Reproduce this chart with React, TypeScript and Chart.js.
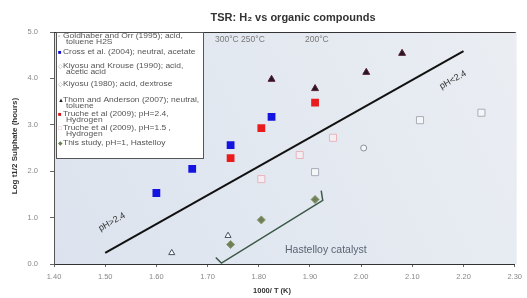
import React, { useEffect, useRef } from "react";
import { Chart, registerables } from "chart.js";
Chart.register(...registerables);

const titleText = "TSR: H\u2082 vs organic compounds";
const xTitle = "1000/ T (K)";
const yTitle = "Log t1/2 Sulphate (hours)";
const xMin = 1.4, xMax = 2.3, xStep = 0.1;
const yMin = 0, yMax = 5, yStep = 1;

const goldhaberX = [1.63, 1.74];
const goldhaberY = [0.24, 0.61];
const crossX = [1.60, 1.67, 1.745, 1.825];
const crossY = [1.53, 2.05, 2.56, 3.17];
const kiyosuKX = [1.91, 2.115, 2.235];
const kiyosuKY = [1.98, 3.1, 3.26];
const kiyosu80X = [2.005];
const kiyosu80Y = [2.5];
const thomX = [1.825, 1.91, 2.01, 2.08];
const thomY = [3.98, 3.78, 4.13, 4.54];
const truche24X = [1.745, 1.805, 1.91];
const truche24Y = [2.28, 2.93, 3.48];
const truche15X = [1.805, 1.88, 1.945];
const truche15Y = [1.83, 2.35, 2.72];
const thisStudyX = [1.745, 1.805, 1.91];
const thisStudyY = [0.42, 0.95, 1.39];

const dividerX = [1.50, 2.20];
const dividerY = [0.24, 4.59];
const bracketX = [1.716, 1.727, 1.925, 1.922];
const bracketY = [0.14, 0.02, 1.37, 1.58];

const legendGoldhaber = ["Goldhaber and Orr (1995); acid,", "toluene H2S"];
const legendCross = ["Cross et al. (2004); neutral, acetate"];
const legendKiyosuK = ["Kiyosu and Krouse (1990); acid,", "acetic acid"];
const legendKiyosu80 = ["Kiyosu (1980); acid, dextrose"];
const legendThom = ["Thom and Anderson (2007); neutral,", "toluene"];
const legendTruche24 = ["Truche et al (2009); pH=2.4,", "Hydrogen"];
const legendTruche15 = ["Truche et al (2009), pH=1.5 ,", "Hydrogen"];
const legendThisStudy = ["This study, pH=1, Hastelloy"];
const legendSymbols = ["\u25AB", "\u25A0", "\u25C7", "\u25C7", "\u25B2", "\u25A0", "\u25A1", "\u25C6"];

const tempLabels = ["300\u00B0C 250\u00B0C", "200\u00B0C"];
const regionLabels = ["pH>2.4", "pH<2.4"];
const catalystLabel = "Hastelloy catalyst";

const pts = (xs: number[], ys: number[]) => xs.map((x, i) => ({ x, y: ys[i] }));

export default function App() {
  const ref = useRef<HTMLCanvasElement>(null);
  useEffect(() => {
    document.body.style.margin = "0";
    const ctx = ref.current!.getContext("2d")!;
    const FONT = "Arial, 'Liberation Sans', sans-serif";

    const decor = {
      id: "decor",
      beforeDraw(chart: any) {
        const { ctx, chartArea: a } = chart;
        ctx.save();
        const g = ctx.createLinearGradient(a.left, a.bottom, a.right, a.top);
        g.addColorStop(0, "#dce3ee");
        g.addColorStop(1, "#eaeef3");
        ctx.fillStyle = g;
        ctx.fillRect(a.left, a.top, a.right - a.left + 2, a.bottom - a.top);
        ctx.restore();
      },
      afterDraw(chart: any) {
        const { ctx, chartArea: a, scales } = chart;
        const xs = scales.x, ys = scales.y;
        ctx.save();
        ctx.strokeStyle = "#333";
        ctx.lineWidth = 1;
        ctx.beginPath();
        ctx.moveTo(a.left, a.top + 0.5);
        ctx.lineTo(a.right + 1, a.top + 0.5);
        ctx.stroke();
        ctx.fillStyle = "#333";
        ctx.font = `bold 11px ${FONT}`;
        ctx.textAlign = "center";
        ctx.textBaseline = "middle";
        ctx.fillText(titleText, 293, 18);
        ctx.font = `bold 7.5px ${FONT}`;
        ctx.fillText(xTitle, 272, 291);
        ctx.save();
        ctx.translate(15, 146);
        ctx.rotate(-Math.PI / 2);
        ctx.font = `bold 8px ${FONT}`;
        ctx.fillText(yTitle, 0, 0);
        ctx.restore();
        ctx.font = `8.5px ${FONT}`;
        ctx.fillStyle = "#777";
        ctx.textAlign = "left";
        ctx.fillText(tempLabels[0], 215, 40);
        ctx.fillText(tempLabels[1], 305, 40);
        const p0x = xs.getPixelForValue(dividerX[0]), p0y = ys.getPixelForValue(dividerY[0]);
        const p1x = xs.getPixelForValue(dividerX[1]), p1y = ys.getPixelForValue(dividerY[1]);
        const ang = Math.atan2(p1y - p0y, p1x - p0x);
        ctx.fillStyle = "#333";
        ctx.font = `9px ${FONT}`;
        ctx.textAlign = "center";
        ctx.save();
        ctx.translate(112, 222);
        ctx.rotate(ang);
        ctx.fillText(regionLabels[0], 0, 0);
        ctx.restore();
        ctx.save();
        ctx.translate(453, 80);
        ctx.rotate(ang);
        ctx.fillText(regionLabels[1], 0, 0);
        ctx.restore();
        ctx.fillStyle = "#5a6474";
        ctx.font = `10.5px ${FONT}`;
        ctx.textAlign = "left";
        ctx.fillText(catalystLabel, 285, 250);
        const bx = 56, by = 32, bw = 147, bh = 126;
        ctx.fillStyle = "#ffffff";
        ctx.fillRect(bx, by, bw, bh);
        ctx.strokeStyle = "#555";
        ctx.lineWidth = 1;
        ctx.strokeRect(bx + 0.5, by + 0.5, bw, bh);
        const entries = [
          { lines: legendGoldhaber, ys: [36, 42], c: "#888" },
          { lines: legendCross, ys: [52], c: "#1010d0" },
          { lines: legendKiyosuK, ys: [66, 72], c: "#999" },
          { lines: legendKiyosu80, ys: [84], c: "#999" },
          { lines: legendThom, ys: [100, 106], c: "#222" },
          { lines: legendTruche24, ys: [114, 120], c: "#d01818" },
          { lines: legendTruche15, ys: [128, 134], c: "#d89aa2" },
          { lines: legendThisStudy, ys: [143], c: "#6d7f55" },
        ];
        ctx.textBaseline = "middle";
        entries.forEach((e, i) => {
          ctx.fillStyle = e.c;
          ctx.font = `6px ${FONT}`;
          ctx.fillText(legendSymbols[i], 58, e.ys[0]);
          ctx.font = `6.5px ${FONT}`;
          ctx.fillStyle = "#555";
          e.lines.forEach((t, j) => {
            ctx.save();
            ctx.translate(j === 0 ? 63 : 66, e.ys[j]);
            ctx.scale(1.3, 1);
            ctx.fillText(t, 0, 0);
            ctx.restore();
          });
        });
        ctx.restore();
      },
    };

    const chart = new Chart(ctx, {
      type: "scatter",
      data: {
        datasets: [
          { label: "divider", data: pts(dividerX, dividerY), showLine: true, borderColor: "#111", borderWidth: 2, pointRadius: 0 },
          { label: "bracket", data: pts(bracketX, bracketY), showLine: true, borderColor: "#3d5a48", borderWidth: 1.5, pointRadius: 0 },
          { label: legendGoldhaber.join(" "), data: pts(goldhaberX, goldhaberY), pointStyle: "triangle", radius: 3.5, backgroundColor: "#ffffff", borderColor: "#4a5060", borderWidth: 1 },
          { label: legendCross.join(" "), data: pts(crossX, crossY), pointStyle: "rect", radius: 5.5, backgroundColor: "#1414e0", borderColor: "#1414e0", borderWidth: 0 },
          { label: legendKiyosuK.join(" "), data: pts(kiyosuKX, kiyosuKY), pointStyle: "rect", radius: 5, backgroundColor: "#f4f6f8", borderColor: "#a8adb8", borderWidth: 1 },
          { label: legendKiyosu80.join(" "), data: pts(kiyosu80X, kiyosu80Y), pointStyle: "circle", radius: 3, backgroundColor: "#f4f6f8", borderColor: "#8a909c", borderWidth: 1 },
          { label: legendThom.join(" "), data: pts(thomX, thomY), pointStyle: "triangle", radius: 4, backgroundColor: "#22182a", borderColor: "#5a2030", borderWidth: 1 },
          { label: legendTruche24.join(" "), data: pts(truche24X, truche24Y), pointStyle: "rect", radius: 5.5, backgroundColor: "#e81c1c", borderColor: "#e81c1c", borderWidth: 0 },
          { label: legendTruche15.join(" "), data: pts(truche15X, truche15Y), pointStyle: "rect", radius: 5, backgroundColor: "rgba(255,240,242,0.6)", borderColor: "#e8b4bc", borderWidth: 1 },
          { label: legendThisStudy.join(" "), data: pts(thisStudyX, thisStudyY), pointStyle: "rectRot", radius: 4, backgroundColor: "#6f7f58", borderColor: "#8a9a70", borderWidth: 1 },
        ],
      },
      options: {
        animation: false,
        responsive: false,
        maintainAspectRatio: false,
        layout: { padding: { top: 32, right: 12, left: 0, bottom: 0 } },
        plugins: { legend: { display: false }, title: { display: false }, tooltip: { enabled: false } },
        scales: {
          x: {
            type: "linear",
            min: xMin,
            max: xMax,
            afterFit: (s: any) => { s.height = 34; },
            border: { color: "#333", width: 1 },
            grid: { display: true, drawOnChartArea: false, drawTicks: true, tickLength: 3, color: "#666" },
            ticks: { stepSize: xStep, padding: 5, color: "#888", font: { size: 7.5, family: FONT }, callback: (v: any) => Number(v).toFixed(2) },
          },
          y: {
            min: yMin,
            max: yMax,
            afterFit: (s: any) => { s.width = 54; },
            border: { color: "#555", width: 1 },
            grid: { display: true, drawOnChartArea: false, drawTicks: true, tickLength: 4, color: "#666" },
            ticks: { stepSize: yStep, padding: 12, color: "#888", font: { size: 7.5, family: FONT }, callback: (v: any) => Number(v).toFixed(1) },
          },
        },
      },
      plugins: [decor],
    });
    return () => chart.destroy();
  }, []);
  return (
    <div style={{ width: 527, height: 298, background: "#fff" }}>
      <canvas ref={ref} width={527} height={298} style={{ display: "block" }} />
    </div>
  );
}
